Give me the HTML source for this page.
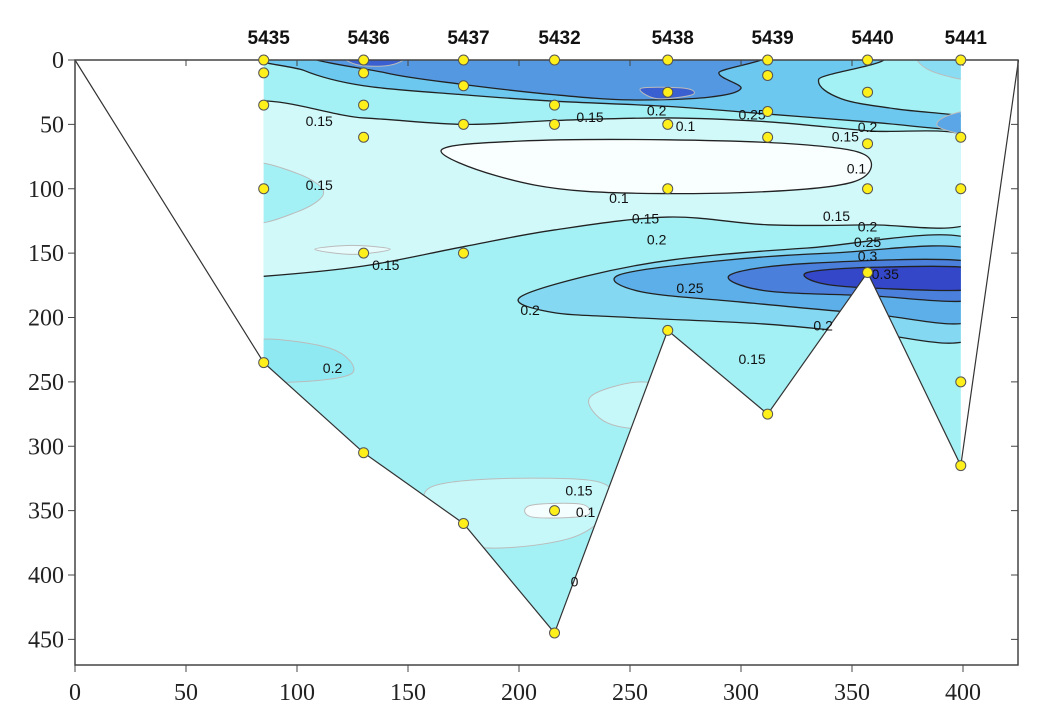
<!DOCTYPE html>
<html><head><meta charset="utf-8"><style>
body{margin:0;background:#fff;}
svg{display:block;font-family:"Liberation Serif",serif;}
.st{font-family:"Liberation Sans",sans-serif;font-weight:bold;font-size:19px;}
.cl{font-family:"Liberation Sans",sans-serif;font-size:14px;fill:#111;}
</style></head><body>
<svg id="chart" width="1050" height="719" viewBox="0 0 1050 719">
<defs><clipPath id="sec"><polygon id="secpoly"/></clipPath></defs>
<g id="fills" clip-path="url(#sec)"></g>
<g id="lines"></g>
<g id="axes"></g>
<g id="pts"></g>
</svg>
<script>
const stationNames=["5435","5436","5437","5432","5438","5439","5440","5441"];
const stationDist=[85,130,175,216,267,312,357,399];
const sampleDepths=[[0,10,35,100,235],[0,10,35,60,150,305],[0,20,50,150,360],[0,35,50,350,445],[0,25,50,100,210],[0,12,40,60,275],[0,25,65,100,165],[0,60,100,250,315]];
const bottomDepth=[235,305,360,445,210,275,165,315];
const xTicks=[0,50,100,150,200,250,300,350,400];
const yTicks=[0,50,100,150,200,250,300,350,400,450];

const X=v=>75+v*2.22, Y=v=>60+v*1.2875;
const NS="http://www.w3.org/2000/svg";
function mk(tag,attrs,parent){const e=document.createElementNS(NS,tag);for(const k in attrs)e.setAttribute(k,attrs[k]);parent.appendChild(e);return e;}
function smooth(pts,closed){const p=pts.map(q=>[X(q[0]),Y(q[1])]);const n=p.length;let d=`M${p[0][0]},${p[0][1]}`;
 const g=i=>closed?p[(i+n)%n]:p[Math.max(0,Math.min(n-1,i))];
 const m=closed?n:n-1;
 for(let i=0;i<m;i++){const p0=g(i-1),p1=g(i),p2=g(i+1),p3=g(i+2);
  d+=`C${p1[0]+(p2[0]-p0[0])/6},${p1[1]+(p2[1]-p0[1])/6} ${p2[0]-(p3[0]-p1[0])/6},${p2[1]-(p3[1]-p1[1])/6} ${p2[0]},${p2[1]}`;}
 return d+(closed?"Z":"");}

const sp=[[stationDist[0],0],[stationDist[7],0]];
for(let i=7;i>=0;i--)sp.push([stationDist[i],bottomDepth[i]]);
document.getElementById('secpoly').setAttribute('points',sp.map(q=>X(q[0])+","+Y(q[1])).join(" "));

const F=document.getElementById('fills'),L=document.getElementById('lines'),A=document.getElementById('axes'),P=document.getElementById('pts');
const base=mk('rect',{x:X(80),y:Y(0),width:X(400)-X(80),height:Y(450)-Y(0),fill:'#a3f1f5'},F);



const regions=[
 ['#d2f9fa',[[70,40],[130,45],[175,50],[216,47],[267,45],[312,48],[357,55],[405,62],[405,125],[357,128],[312,128],[267,122],[216,132],[175,145],[130,160],[85,168],[70,168]],true,'light-band'],
 ['#a3f1f5',[[78,82],[100,88],[112,103],[100,118],[78,125]],false,'left-blob'],
 ['#f9ffff',[[165,70],[200,63],[267,62],[330,66],[357,75],[350,95],[300,103],[230,102],[190,90]],true,'white-core'],
 ['#e6fcfc',[[108,147],[125,144],[142,147],[125,151]],false,'light-spot'],
 ['#6cc8ee',[[95,-5],[350,-5],[335,15],[345,30],[370,38],[405,45],[405,55],[357,48],[312,42],[267,36],[216,32],[175,27],[130,20],[103,8]],true,'top-02'],
 ['#8adcf2',[[380,-5],[405,-5],[405,15],[385,8]],false,'top-right-02'],
 ['#5598e2',[[115,-5],[300,-5],[290,10],[300,22],[285,29],[250,31],[216,27],[175,19],[140,10]],true,'top-025'],
 ['#3a5fd0',[[122,-3],[148,-3],[142,4],[128,4]],false,'top-03-a'],
 ['#3a5fd0',[[255,22],[275,22],[278,27],[262,30]],false,'top-03-b'],
 ['#5aa6e6',[[405,40],[392,44],[389,52],[405,58]],false,'right-blob'],
 ['#84d8f1',[[200,185],[230,168],[270,155],[330,146],[405,140],[405,215],[357,212],[310,205],[250,200],[215,196]],true,'deep-02'],
 ['#5cafe8',[[245,167],[290,156],[340,150],[405,148],[405,202],[357,197],[300,188],[255,180]],true,'deep-025'],
 ['#4a7fdc',[[295,167],[330,158],[405,157],[405,186],[357,183],[310,179]],true,'deep-03'],
 ['#3347c8',[[330,165],[360,161],[405,162],[405,178],[357,177],[335,173]],true,'deep-035'],
 ['#8fe9f3',[[80,218],[115,224],[125,243],[100,250],[80,246]],false,'bottom-left-02'],
 ['#c6f7f9',[[232,262],[255,250],[272,262],[262,285],[240,282]],false,'trough-light'],
 ['#c6f7f9',[[160,332],[230,326],[242,345],[222,372],[175,376]],false,'bottom-light'],
 ['#f4fefe',[[205,346],[228,345],[230,354],[206,355]],false,'bottom-white']
];
regions.forEach(r=>{const e=mk('path',{d:smooth(r[1],true),fill:r[0],stroke:r[2]?'#222':'#bbb','stroke-width':r[2]?1.3:1},F);
 
 });

const ol=[[0,0]];for(let i=0;i<8;i++)ol.push([stationDist[i],bottomDepth[i]]);ol.push([425,0]);
const o=mk('polyline',{points:ol.map(q=>X(q[0])+","+Y(q[1])).join(" "),fill:'none',stroke:'#333','stroke-width':1.2},L);



const labels=[["0.15",110,48],["0.15",232,45],["0.2",262,40],["0.1",275,52],["0.25",305,43],["0.15",347,60],["0.2",357,53],["0.1",352,85],["0.15",110,98],["0.1",245,108],["0.15",257,124],["0.15",343,122],["0.2",357,130],["0.25",357,142],["0.3",357,153],["0.35",365,167],["0.2",262,140],["0.15",140,160],["0.25",277,178],["0.2",205,195],["0.2",337,207],["0.15",305,233],["0.2",116,240],["0.15",227,335],["0.1",230,352],["0",225,406]];
labels.forEach(l=>{const t=mk('text',{x:X(l[1]),y:Y(l[2])+4,'text-anchor':'middle',class:'cl'},L);t.textContent=l[0];
 
 });

const fr=mk('rect',{x:75,y:Y(0),width:943,height:665-Y(0),fill:'none',stroke:'#444','stroke-width':1.5},A);


xTicks.forEach(v=>{mk('line',{x1:X(v),x2:X(v),y1:665,y2:672,stroke:'#444'},A);mk('line',{x1:X(v),x2:X(v),y1:Y(0),y2:Y(0)+6,stroke:'#444'},A);
 const t=mk('text',{x:X(v),y:700,'text-anchor':'middle','font-size':24,fill:'#222'},A);t.textContent=v;
 
 });
yTicks.forEach(v=>{mk('line',{x1:68,x2:75,y1:Y(v),y2:Y(v),stroke:'#444'},A);mk('line',{x1:1011,x2:1018,y1:Y(v),y2:Y(v),stroke:'#444'},A);
 const t=mk('text',{x:64,y:Y(v)+8,'text-anchor':'end','font-size':24,fill:'#222'},A);t.textContent=v;
 
 });

stationDist.forEach((d,i)=>{const t=mk('text',{x:X(d)+5,y:44,'text-anchor':'middle',class:'st',fill:'#111'},A);t.textContent=stationNames[i];
 
 
 sampleDepths[i].forEach(z=>{const c=mk('ellipse',{cx:X(d),cy:Y(z),rx:5,ry:5,fill:'#ffef1a',stroke:'#555','stroke-width':1},P);
  
  });});
</script>
</body></html>
